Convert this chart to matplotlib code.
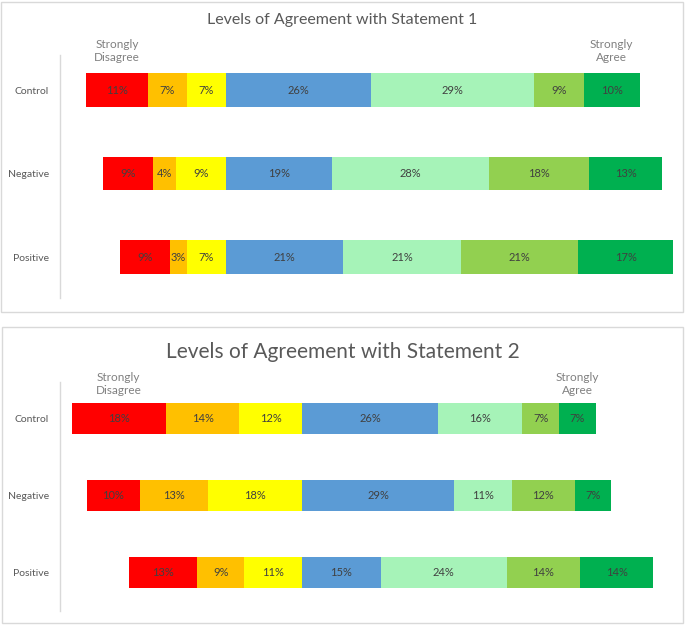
import matplotlib
matplotlib.use("Agg")
import matplotlib.pyplot as plt
from matplotlib.patches import Rectangle

plt.rcParams['font.family'] = ['Lato', 'DejaVu Sans']

groups = ["Control", "Negative", "Positive"]
levels = ["Strongly Disagree", "Disagree", "Somewhat Disagree", "Neutral",
          "Somewhat Agree", "Agree", "Strongly Agree"]
colors = ["#FF0000", "#FFC000", "#FFFF00", "#5B9BD5", "#A6F3B8", "#92D050", "#00B050"]

s1_control = [11, 7, 7, 26, 29, 9, 10]
s1_negative = [9, 4, 9, 19, 28, 18, 13]
s1_positive = [9, 3, 7, 21, 21, 21, 17]

s2_control = [18, 14, 12, 26, 16, 7, 7]
s2_negative = [10, 13, 18, 29, 11, 12, 7]
s2_positive = [13, 9, 11, 15, 24, 14, 14]

titles = ["Levels of Agreement with Statement 1", "Levels of Agreement with Statement 2"]

W, H = 685, 626
fig = plt.figure(figsize=(W / 100, H / 100), dpi=100)

def fx(px):
    return px / W

def fy(py):
    return 1 - py / H

# panel borders
for (l, t, r, b) in [(1, 2, 683, 312), (2, 327, 683, 623)]:
    fig.patches.append(Rectangle((fx(l), fy(b)), fx(r - l), (b - t) / H,
                                 transform=fig.transFigure, fill=False,
                                 edgecolor="#D9D9D9", linewidth=1.0))

def draw(ax_rect, xlim, ylim, rows, title, title_y, title_size, ann_y):
    l, t, r, b = ax_rect
    ax = fig.add_axes([fx(l), fy(b), fx(r - l), (b - t) / H])
    for i, vals in enumerate(rows):
        left = -sum(vals[:3])
        for v, c in zip(vals, colors):
            ax.barh(i, v, left=left, height=0.4, color=c, edgecolor="none")
            ax.text(left + v / 2, i, f"{v}%", ha="center", va="center",
                    fontsize=8, color="#404040")
            left += v
    ax.set_xlim(*xlim)
    ax.set_ylim(*ylim)
    ax.set_yticks(range(len(groups)))
    ax.set_yticklabels(groups, fontsize=7.5, color="#595959")
    ax.tick_params(axis="y", length=0, pad=8)
    ax.set_xticks([])
    for s in ["top", "right", "bottom"]:
        ax.spines[s].set_visible(False)
    ax.spines["left"].set_color("#D9D9D9")
    ax.spines["left"].set_linewidth(1.0)
    first = rows[0]
    xs = -sum(first[:3]) + first[0] / 2
    xe = sum(first[3:]) - first[6] / 2
    ax.annotate("Strongly\nDisagree", xy=(xs, ann_y), xycoords="data",
                ha="center", va="bottom", fontsize=8.5, color="#808080",
                annotation_clip=False, linespacing=1.2)
    ax.annotate("Strongly\nAgree", xy=(xe, ann_y), xycoords="data",
                ha="center", va="bottom", fontsize=8.5, color="#808080",
                annotation_clip=False, linespacing=1.2)
    fig.text(0.5, fy(title_y), title, ha="center", va="center",
             fontsize=title_size, color="#595959")
    return ax

draw((60, 55, 680, 298), (-29.7, 81.2), (2.49, -0.42),
     [s1_control, s1_negative, s1_positive], titles[0], 20, 11.5, -0.33)
draw((60, 382, 680, 611), (-46.2, 72.1), (2.506, -0.48),
     [s2_control, s2_negative, s2_positive], titles[1], 352, 15, -0.30)

fig.savefig("out.png", dpi=100, facecolor="white")
